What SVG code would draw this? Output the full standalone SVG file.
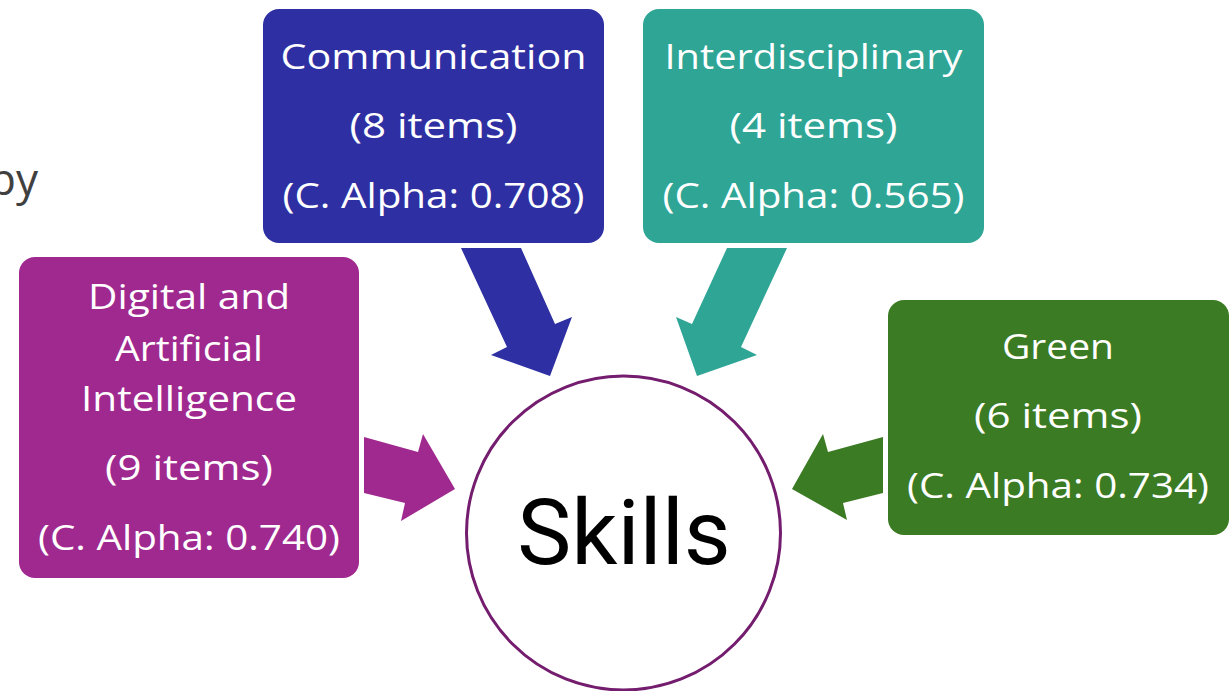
<svg xmlns="http://www.w3.org/2000/svg" width="1229" height="691" viewBox="0 0 1229 691">
  <style>
    .lbl { font-family: "Open Sans", "Liberation Sans", sans-serif; font-size: 35px; fill: #ffffff; text-anchor: middle; }
    .core { font-family: Roboto, "Liberation Sans", sans-serif; font-size: 91px; fill: #000000; text-anchor: middle; }
    .bg { font-family: "Open Sans", "Liberation Sans", sans-serif; font-size: 44px; fill: #404040; text-anchor: end; }
  </style>
  <rect width="1229" height="691" fill="#ffffff"/>

  <!-- trailing letters of a heading cut off at the left edge -->
  <text class="bg" x="38" y="195">py</text>

  <!-- block arrows pointing into the central circle -->
  <g id="connectors">
    <polygon fill="#2e2fa2" points="461,248 521,248 555,324 572,317 550,376 491,355 507,347"/>
    <polygon fill="#2ea595" points="727,248 787,248 741,347 757,355 697,376 676,317 692,324"/>
    <polygon fill="#a0298f" points="364,437 418,452 423,434 455,489 401,521 405,503 364,493"/>
    <polygon fill="#3b7b23" points="883,437 828,452 823,434 792,489 847,520 843,503 883,493"/>
  </g>

  <g id="skills">
    <circle cx="623.5" cy="533" r="157" fill="#ffffff" stroke="#741c6e" stroke-width="3"/>
    <text class="core" x="624" y="564">Skills</text>
  </g>

  <g id="communication">
    <rect x="263" y="9" width="341" height="234" rx="16" fill="#2e2fa2"/>
    <text class="lbl" x="433.5" y="69" textLength="306" lengthAdjust="spacingAndGlyphs">Communication</text>
    <text class="lbl" x="433.5" y="138" textLength="168" lengthAdjust="spacingAndGlyphs">(8 items)</text>
    <text class="lbl" x="433.5" y="208" textLength="302" lengthAdjust="spacingAndGlyphs">(C. Alpha: 0.708)</text>
  </g>

  <g id="interdisciplinary">
    <rect x="643" y="9" width="341" height="234" rx="16" fill="#2ea595"/>
    <text class="lbl" x="813.5" y="69" textLength="298" lengthAdjust="spacingAndGlyphs">Interdisciplinary</text>
    <text class="lbl" x="813.5" y="138" textLength="168" lengthAdjust="spacingAndGlyphs">(4 items)</text>
    <text class="lbl" x="813.5" y="208" textLength="302" lengthAdjust="spacingAndGlyphs">(C. Alpha: 0.565)</text>
  </g>

  <g id="digital-ai">
    <rect x="19" y="257" width="340" height="321" rx="16" fill="#a0298f"/>
    <text class="lbl" x="189" y="309" textLength="202" lengthAdjust="spacingAndGlyphs">Digital and</text>
    <text class="lbl" x="189" y="361" textLength="148" lengthAdjust="spacingAndGlyphs">Artificial</text>
    <text class="lbl" x="189" y="411" textLength="216" lengthAdjust="spacingAndGlyphs">Intelligence</text>
    <text class="lbl" x="189" y="480" textLength="168" lengthAdjust="spacingAndGlyphs">(9 items)</text>
    <text class="lbl" x="189" y="550" textLength="302" lengthAdjust="spacingAndGlyphs">(C. Alpha: 0.740)</text>
  </g>

  <g id="green">
    <rect x="888" y="300" width="341" height="235" rx="16" fill="#3b7b23"/>
    <text class="lbl" x="1058" y="359" textLength="112" lengthAdjust="spacingAndGlyphs">Green</text>
    <text class="lbl" x="1058" y="428" textLength="168" lengthAdjust="spacingAndGlyphs">(6 items)</text>
    <text class="lbl" x="1058" y="498" textLength="302" lengthAdjust="spacingAndGlyphs">(C. Alpha: 0.734)</text>
  </g>
</svg>
